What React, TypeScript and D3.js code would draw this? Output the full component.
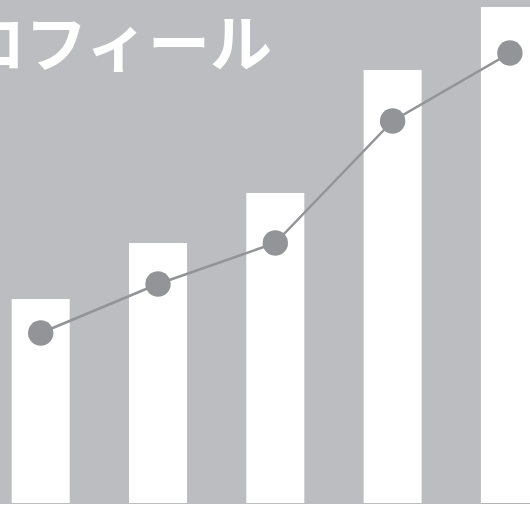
import React from "react";
import * as d3 from "d3";

const categories = ["1", "2", "3", "4", "5"];
const barValues = [102, 130, 155, 216.5, 248];
const lineValues = [85, 109.5, 130, 191, 225];
const titleText = "プロフィール";

const W = 530;
const H = 506;

export default function App() {
  const step = 117.3;
  const bw = 58;
  const xs = d3
    .scaleLinear()
    .domain([0, categories.length - 1])
    .range([11.7, 11.7 + step * (categories.length - 1)]);
  const y = d3.scaleLinear().domain([0, 250]).range([503, 3]);

  const line = d3
    .line<number>()
    .x((_, i) => xs(i) + bw / 2)
    .y((d) => y(d));

  const lastX = xs(categories.length - 1);

  return (
    <svg
      width={W}
      height={H}
      style={{ position: "absolute", left: 0, top: 0, display: "block" }}
    >
      <rect x={0} y={0} width={W} height={504} fill="#bcbdc1" />
      <text
        x={272}
        y={67}
        textAnchor="end"
        fill="#ffffff"
        fontFamily="'Noto Sans CJK JP', 'Noto Sans', sans-serif"
        fontWeight={700}
        fontSize={62}
      >
        {titleText}
      </text>
      {barValues.map((v, i) => (
        <rect
          key={categories[i]}
          x={xs(i)}
          y={y(v)}
          width={bw}
          height={y(0) - y(v)}
          fill="#ffffff"
        />
      ))}
      <line x1={lastX} x2={W} y1={503.5} y2={503.5} stroke="#b3b3b6" strokeWidth={1} />
      <path d={line(lineValues) ?? ""} fill="none" stroke="#939498" strokeWidth={2.5} />
      {lineValues.map((v, i) => (
        <circle key={categories[i]} cx={xs(i) + bw / 2} cy={y(v)} r={12.7} fill="#939498" />
      ))}
    </svg>
  );
}
